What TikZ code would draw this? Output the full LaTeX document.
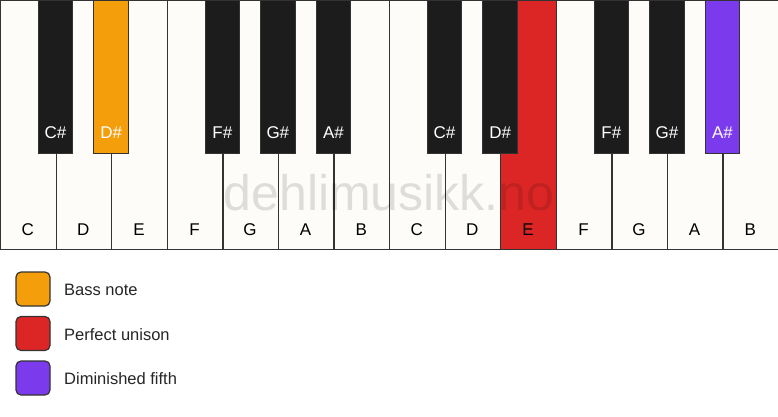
\documentclass[tikz,border=0pt]{standalone}
\usepackage{fontspec}
\setmainfont{Liberation Sans}
\definecolor{keywhite}{HTML}{FDFCF9}
\definecolor{keyblack}{HTML}{1C1C1C}
\definecolor{keyline}{HTML}{333333}
\definecolor{bassc}{HTML}{F59E0B}
\definecolor{unisonc}{HTML}{DC2626}
\definecolor{dimc}{HTML}{7C3AED}
\tikzset{
  whitekey/.style={draw=keyline, line width=1.3pt, fill=keywhite, rectangle, inner sep=0pt, outer sep=0pt, anchor=north west, minimum width=55.5714pt, minimum height=248.5pt},
  blackkey/.style={draw=keyline, line width=1pt, fill=keyblack, rectangle, inner sep=0pt, outer sep=0pt, anchor=north, minimum width=34.5pt, minimum height=152.5pt},
  wlabel/.style={font=\fontsize{17}{20}\selectfont, text=black, inner sep=0pt},
  blabel/.style={font=\fontsize{17}{20}\selectfont, text=white, inner sep=0pt},
  legbox/.style={draw=keyline, line width=1.2pt, rounded corners=5pt, minimum width=34pt, minimum height=34pt, inner sep=0pt},
  legtext/.style={font=\fontsize{16.5}{19}\selectfont, text=black!85, anchor=west, inner sep=0pt},
  watermark/.style={font=\fontsize{50}{60}\selectfont, text=black, text opacity=0.12, inner sep=0pt, anchor=base}
}
\begin{document}
\begin{tikzpicture}[x=1pt,y=-1pt]
\useasboundingbox (0,0) rectangle (778,417);
\fill[white] (0,0) rectangle (778,417);
\def\w{55.5714}
% white keys
\foreach \i/\n in {0/C,1/D,2/E,3/F,4/G,5/A,6/B,7/C,8/D,9/E,10/F,11/G,12/A,13/B}{
  \ifnum\i=9
    \node[whitekey, fill=unisonc] (w\i) at ({\i*\w+0.65},0.75) {};
  \else
    \node[whitekey] (w\i) at ({\i*\w+0.65},0.75) {};
  \fi
  \node[wlabel] (wl\i) at ({(\i+0.5)*\w},230) {\n};
}
% watermark
\node[watermark] (wm) at (389,210) {dehlimusikk.no};
% black keys
\foreach \b/\n/\c in {1/C\#/keyblack,2/D\#/bassc,4/F\#/keyblack,5/G\#/keyblack,6/A\#/keyblack,8/C\#/keyblack,9/D\#/keyblack,11/F\#/keyblack,12/G\#/keyblack,13/A\#/dimc}{
  \node[blackkey, fill=\c] (b\b) at ({\b*\w},0.5) {};
  \node[blabel] (bl\b) at ({\b*\w},133) {\n};
}
% legend
\node[legbox, fill=bassc] (l1) at (33,289) {};
\node[legtext] (t1) at (64,290) {Bass note};
\node[legbox, fill=unisonc] (l2) at (33,333.5) {};
\node[legtext] (t2) at (64,334.5) {Perfect unison};
\node[legbox, fill=dimc] (l3) at (33,378) {};
\node[legtext] (t3) at (64,379) {Diminished fifth};
\end{tikzpicture}
\end{document}
